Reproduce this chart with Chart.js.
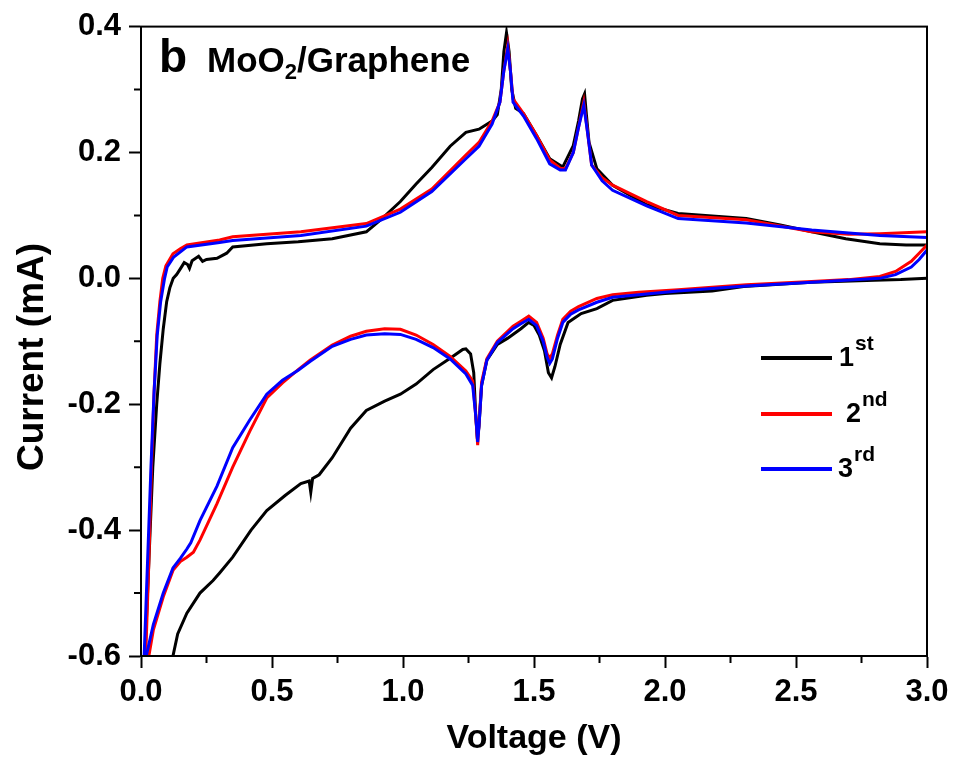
<!DOCTYPE html>
<html>
<head>
<meta charset="utf-8">
<style>
  body { margin: 0; padding: 0; background: #fff; }
  #cv { display: block; }
</style>
</head>
<body>
<canvas id="cv" width="956" height="757"></canvas>
<script src="https://cdn.jsdelivr.net/npm/chart.js"></script>
<script>
// cycle 1 (black): cathodic sweep 3.0 -> 0 V, then anodic back to 3.0 V
const c1V = [3.0, 2.9, 2.8, 2.56, 2.3, 2.18, 2.0, 1.93, 1.8, 1.74, 1.68, 1.63, 1.6, 1.58, 1.567, 1.555, 1.54, 1.52, 1.5, 1.48, 1.45, 1.4, 1.36, 1.32, 1.3, 1.29, 1.284, 1.278, 1.27, 1.258, 1.24, 1.228, 1.18, 1.115, 1.05, 0.99, 0.93, 0.86, 0.8, 0.73, 0.68, 0.655, 0.648, 0.642, 0.61, 0.55, 0.48, 0.42, 0.35, 0.3, 0.275, 0.225, 0.175, 0.14, 0.122, 0.08, 0.02, 0.0,
  0.015, 0.03, 0.045, 0.06, 0.072, 0.085, 0.098, 0.11, 0.123, 0.136, 0.15, 0.165, 0.178, 0.185, 0.195, 0.206, 0.22, 0.235, 0.25, 0.29, 0.327, 0.35, 0.48, 0.6, 0.73, 0.86, 0.92, 0.99, 1.05, 1.11, 1.18, 1.24, 1.29, 1.34, 1.36, 1.375, 1.385, 1.395, 1.405, 1.415, 1.43, 1.46, 1.51, 1.56, 1.61, 1.65, 1.67, 1.685, 1.693, 1.70, 1.71, 1.74, 1.8, 1.93, 2.05, 2.31, 2.44, 2.56, 2.69, 2.82, 2.92, 3.0];
const c1I = [0.0, -0.002, -0.003, -0.006, -0.013, -0.02, -0.024, -0.027, -0.035, -0.048, -0.056, -0.07, -0.105, -0.14, -0.158, -0.15, -0.115, -0.09, -0.075, -0.07, -0.08, -0.095, -0.105, -0.13, -0.17, -0.235, -0.255, -0.22, -0.15, -0.12, -0.112, -0.113, -0.127, -0.145, -0.168, -0.184, -0.195, -0.21, -0.238, -0.285, -0.312, -0.318, -0.34, -0.322, -0.326, -0.345, -0.369, -0.40, -0.443, -0.468, -0.48, -0.50, -0.532, -0.565, -0.6, -0.75, -0.95, -1.0,
  -0.6, -0.45, -0.3, -0.2, -0.136, -0.08, -0.037, -0.015, 0.0, 0.006, 0.015, 0.025, 0.022, 0.016, 0.028, 0.031, 0.035, 0.027, 0.03, 0.032, 0.04, 0.05, 0.055, 0.058, 0.063, 0.074, 0.095, 0.122, 0.15, 0.176, 0.21, 0.232, 0.237, 0.25, 0.26, 0.30, 0.36, 0.39, 0.36, 0.30, 0.27, 0.262, 0.227, 0.19, 0.177, 0.211, 0.25, 0.285, 0.293, 0.26, 0.216, 0.174, 0.148, 0.117, 0.103, 0.095, 0.085, 0.074, 0.063, 0.055, 0.053, 0.053];

// cycle 2 (red)
const c2V = [3.0, 2.97, 2.94, 2.88, 2.82, 2.7, 2.56, 2.31, 2.05, 1.9, 1.8, 1.74, 1.67, 1.64, 1.61, 1.59, 1.57, 1.56, 1.55, 1.535, 1.51, 1.48, 1.45, 1.42, 1.36, 1.32, 1.3, 1.29, 1.285, 1.278, 1.266, 1.24, 1.18, 1.115, 1.05, 0.99, 0.93, 0.86, 0.8, 0.73, 0.645, 0.6, 0.54, 0.48, 0.415, 0.35, 0.29, 0.225, 0.2, 0.175, 0.15, 0.122, 0.085, 0.047, 0.03, 0.015,
  0.01, 0.018, 0.03, 0.04, 0.05, 0.06, 0.072, 0.083, 0.095, 0.122, 0.15, 0.175, 0.3, 0.35, 0.61, 0.86, 0.99, 1.11, 1.24, 1.29, 1.34, 1.37, 1.385, 1.4, 1.41, 1.42, 1.46, 1.51, 1.56, 1.6, 1.62, 1.65, 1.67, 1.69, 1.705, 1.72, 1.76, 1.8, 1.93, 2.05, 2.31, 2.56, 2.7, 2.82, 3.0];
const c2I = [0.053, 0.04, 0.027, 0.011, 0.003, -0.002, -0.005, -0.01, -0.018, -0.022, -0.026, -0.032, -0.045, -0.052, -0.065, -0.09, -0.12, -0.127, -0.12, -0.095, -0.07, -0.06, -0.068, -0.076, -0.1, -0.128, -0.165, -0.23, -0.265, -0.22, -0.163, -0.147, -0.124, -0.105, -0.09, -0.081, -0.08, -0.084, -0.092, -0.106, -0.13, -0.145, -0.166, -0.19, -0.243, -0.30, -0.358, -0.416, -0.435, -0.443, -0.45, -0.464, -0.506, -0.559, -0.6, -0.7,
  -0.7, -0.6, -0.45, -0.3, -0.18, -0.09, -0.037, 0.0, 0.02, 0.039, 0.047, 0.053, 0.061, 0.066, 0.074, 0.087, 0.11, 0.142, 0.196, 0.216, 0.25, 0.28, 0.33, 0.37, 0.33, 0.285, 0.262, 0.227, 0.188, 0.175, 0.174, 0.2, 0.24, 0.28, 0.23, 0.18, 0.16, 0.148, 0.122, 0.10, 0.093, 0.074, 0.07, 0.071, 0.074];

// cycle 3 (blue)
const c3V = [3.0, 2.97, 2.94, 2.88, 2.82, 2.56, 2.31, 2.05, 1.8, 1.74, 1.67, 1.64, 1.61, 1.59, 1.57, 1.56, 1.55, 1.535, 1.51, 1.48, 1.45, 1.42, 1.36, 1.32, 1.3, 1.29, 1.285, 1.278, 1.266, 1.24, 1.18, 1.115, 1.05, 0.99, 0.93, 0.86, 0.8, 0.73, 0.645, 0.6, 0.54, 0.48, 0.415, 0.35, 0.29, 0.225, 0.19, 0.175, 0.15, 0.122, 0.085, 0.047, 0.02, 0.005,
  0.003, 0.012, 0.025, 0.038, 0.05, 0.062, 0.075, 0.09, 0.1, 0.125, 0.175, 0.3, 0.35, 0.61, 0.86, 0.99, 1.11, 1.24, 1.29, 1.34, 1.37, 1.385, 1.4, 1.41, 1.42, 1.46, 1.51, 1.56, 1.6, 1.62, 1.65, 1.67, 1.69, 1.705, 1.72, 1.76, 1.8, 1.93, 2.05, 2.31, 2.56, 2.82, 3.0];
const c3I = [0.045, 0.03, 0.018, 0.006, 0.0, -0.006, -0.012, -0.02, -0.03, -0.038, -0.05, -0.057, -0.07, -0.095, -0.128, -0.135, -0.125, -0.1, -0.075, -0.065, -0.072, -0.08, -0.102, -0.13, -0.17, -0.235, -0.26, -0.22, -0.17, -0.152, -0.128, -0.11, -0.097, -0.089, -0.088, -0.09, -0.097, -0.108, -0.132, -0.146, -0.162, -0.184, -0.225, -0.269, -0.33, -0.385, -0.42, -0.43, -0.445, -0.46, -0.5, -0.55, -0.6, -0.7,
  -0.7, -0.6, -0.45, -0.3, -0.18, -0.09, -0.037, 0.0, 0.018, 0.034, 0.05, 0.057, 0.06, 0.068, 0.083, 0.105, 0.138, 0.19, 0.21, 0.245, 0.28, 0.33, 0.365, 0.33, 0.28, 0.258, 0.222, 0.182, 0.172, 0.172, 0.2, 0.24, 0.275, 0.23, 0.18, 0.155, 0.14, 0.115, 0.095, 0.088, 0.077, 0.068, 0.065];

const cycleNames = ['1', '2', '3'];
const cycleSup = ['st', 'nd', 'rd'];
const cycleColors = ['#000000', '#ff0000', '#0000ff'];

const xTicks = [0, 0.5, 1.0, 1.5, 2.0, 2.5, 3.0];
const xMinor = [0.25, 0.75, 1.25, 1.75, 2.25, 2.75];
const yTicks = [-0.6, -0.4, -0.2, 0.0, 0.2, 0.4];
const yMinor = [-0.5, -0.3, -0.1, 0.1, 0.3];

function pairs(vs, is) {
  return vs.map((v, i) => ({ x: v, y: is[i] }));
}

const FONT = 'Liberation Sans, Arial, sans-serif';

// frame, minor ticks, axis titles, panel label and legend
const decor = {
  id: 'decor',
  afterDraw(chart) {
    const c = chart.ctx;
    const a = chart.chartArea;
    const sx = chart.scales.x, sy = chart.scales.y;
    c.save();
    c.strokeStyle = '#000';
    c.lineWidth = 2;
    c.strokeRect(a.left, a.top, a.right - a.left, a.bottom - a.top);
    c.beginPath();
    xMinor.forEach(v => {
      const p = sx.getPixelForValue(v);
      c.moveTo(p, a.bottom); c.lineTo(p, a.bottom + 7);
    });
    yMinor.forEach(v => {
      const p = sy.getPixelForValue(v);
      c.moveTo(a.left, p); c.lineTo(a.left - 7, p);
    });
    c.stroke();

    c.fillStyle = '#000';
    c.textBaseline = 'alphabetic';
    c.textAlign = 'center';
    c.font = 'bold 34px ' + FONT;
    c.fillText('Voltage (V)', (a.left + a.right) / 2, 748);
    c.save();
    c.translate(43, 357);
    c.rotate(-Math.PI / 2);
    c.font = 'bold 37px ' + FONT;
    c.fillText('Current (mA)', 0, 0);
    c.restore();

    c.textAlign = 'left';
    c.font = 'bold 46px ' + FONT;
    c.fillText('b', 159, 72);
    c.font = 'bold 35px ' + FONT;
    let x = 207;
    c.fillText('MoO', x, 72);
    x += c.measureText('MoO').width;
    c.font = 'bold 22px ' + FONT;
    c.fillText('2', x, 79);
    x += c.measureText('2').width;
    c.font = 'bold 35px ' + FONT;
    c.fillText('/Graphene', x, 72);

    const rows = [366, 422, 477];
    const digitX = [839, 846, 838];
    cycleNames.forEach((n, i) => {
      const ly = rows[i] - 8;
      c.strokeStyle = cycleColors[i];
      c.lineWidth = 4;
      c.beginPath();
      c.moveTo(761, ly); c.lineTo(832, ly);
      c.stroke();
      c.font = 'bold 27px ' + FONT;
      c.fillText(n, digitX[i], rows[i]);
      const w = c.measureText(n).width;
      c.font = 'bold 21px ' + FONT;
      c.fillText(cycleSup[i], digitX[i] + w + 1, rows[i] - 16);
    });
    c.restore();
  }
};

const tickFont = { family: FONT, size: 31, weight: 'bold' };
const fmt = v => Math.abs(v) < 1e-9 ? '0.0' : v.toFixed(1);

new Chart(document.getElementById('cv'), {
  type: 'scatter',
  data: {
    datasets: [
      { data: pairs(c1V, c1I), borderColor: cycleColors[0], order: 2 },
      { data: pairs(c2V, c2I), borderColor: cycleColors[1], order: 1 },
      { data: pairs(c3V, c3I), borderColor: cycleColors[2], order: 0 }
    ].map(d => Object.assign(d, { showLine: true, pointRadius: 0, borderWidth: 3, tension: 0 }))
  },
  options: {
    responsive: false,
    animation: false,
    events: [],
    layout: { padding: { top: 24, right: 29, left: 0, bottom: 0 } },
    plugins: { legend: { display: false }, tooltip: { enabled: false } },
    scales: {
      x: {
        type: 'linear', min: 0, max: 3,
        afterBuildTicks: s => { s.ticks = xTicks.map(v => ({ value: v })); },
        afterFit: s => { s.height = 101; },
        ticks: { font: tickFont, color: '#000', padding: 6, maxRotation: 0, callback: fmt },
        grid: { drawOnChartArea: false, tickLength: 12, tickWidth: 2, tickColor: '#000' },
        border: { color: '#000', width: 2 }
      },
      y: {
        type: 'linear', min: -0.6, max: 0.4,
        afterBuildTicks: s => { s.ticks = yTicks.map(v => ({ value: v })); },
        afterFit: s => { s.width = 141; },
        ticks: { font: tickFont, color: '#000', padding: 8, callback: fmt },
        grid: { drawOnChartArea: false, tickLength: 12, tickWidth: 2, tickColor: '#000' },
        border: { color: '#000', width: 2 }
      }
    }
  },
  plugins: [decor]
});
</script>
</body>
</html>
